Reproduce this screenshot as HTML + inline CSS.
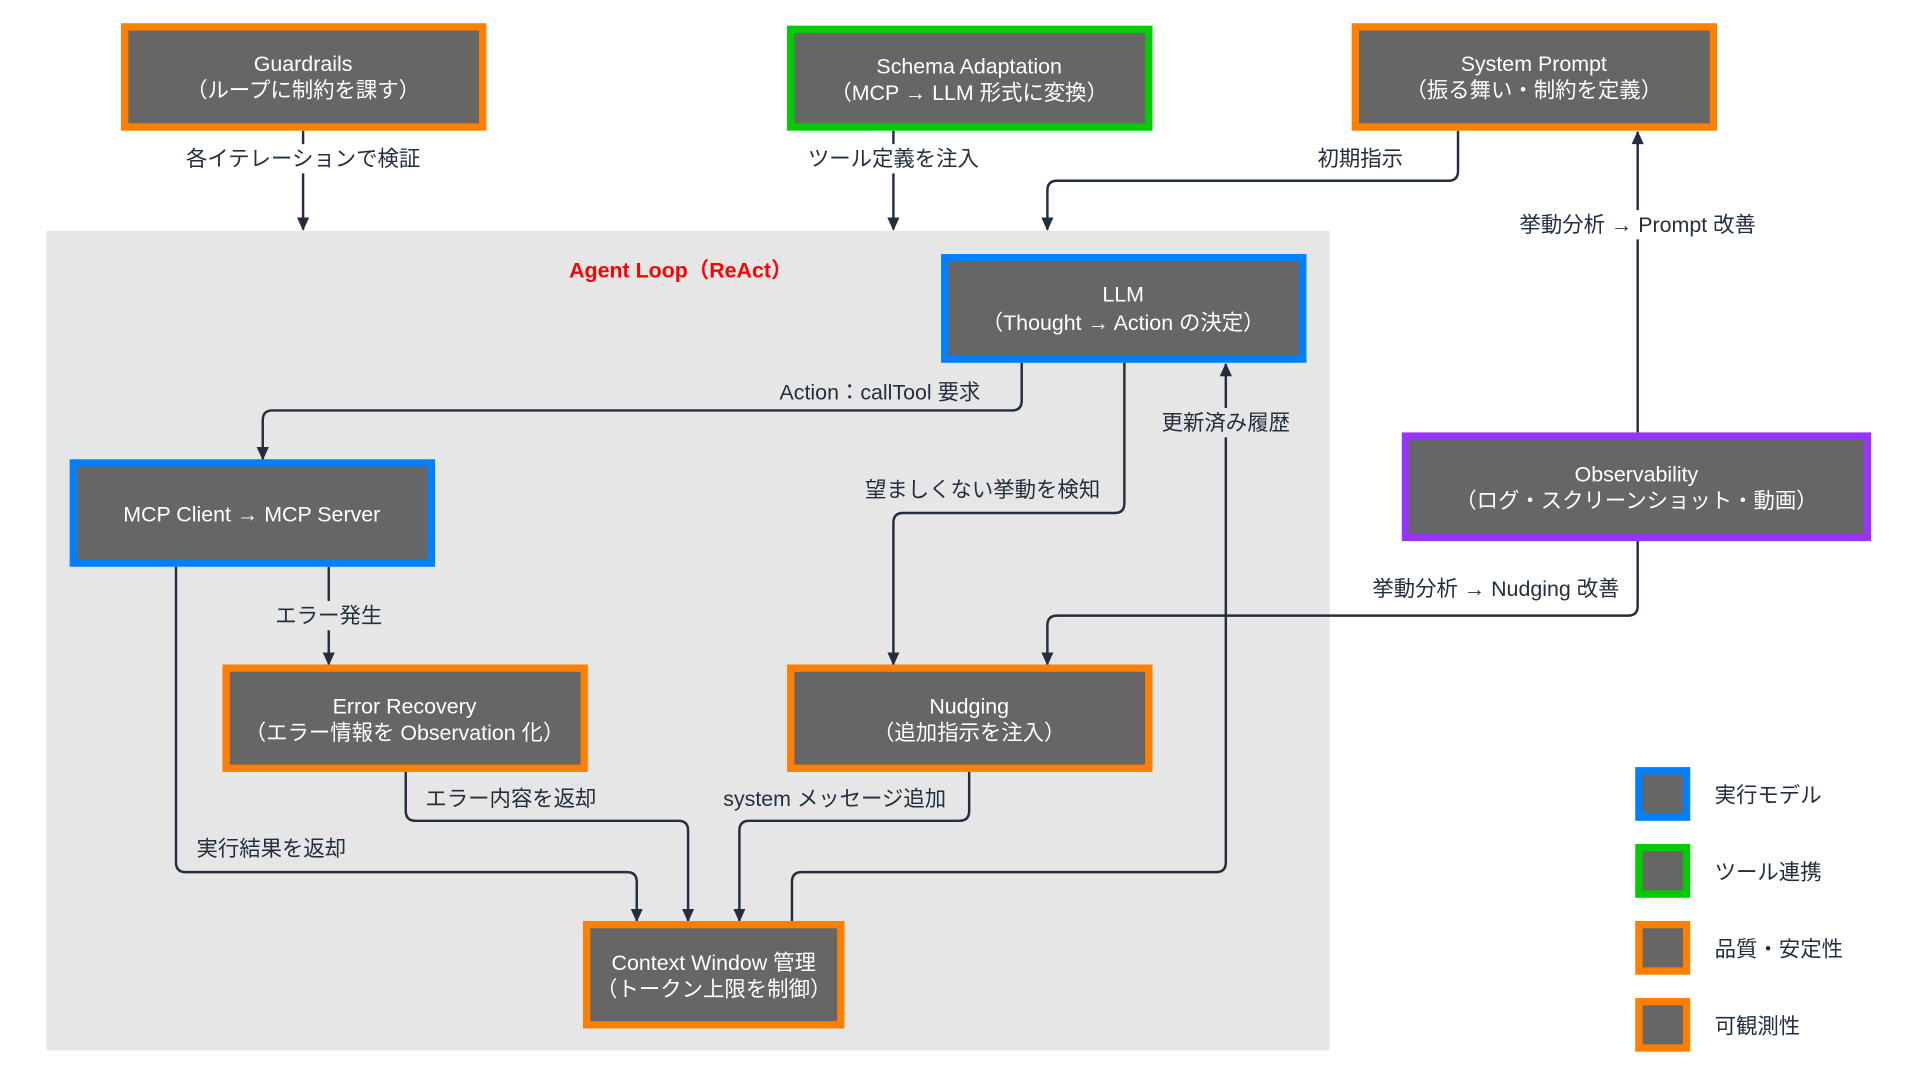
<!DOCTYPE html>
<html><head><meta charset="utf-8"><style>
html,body{margin:0;padding:0;background:#fff;}
svg{display:block;}
text{font-family:"Liberation Sans","Noto Sans CJK JP",sans-serif;}
.bt{fill:#fff;font-size:17.5px;text-anchor:middle;}
.lb{fill:#232f3e;font-size:17.5px;text-anchor:middle;}
.c{fill:none;stroke:#232f3e;stroke-width:2;}
</style></head><body>
<svg width="1920" height="1081" viewBox="0 0 1571 885" preserveAspectRatio="none" xmlns="http://www.w3.org/2000/svg">
<defs><marker id="a" markerWidth="10" markerHeight="10" refX="5" refY="9" orient="auto-start-reverse" markerUnits="userSpaceOnUse" viewBox="0 0 10 10"><path d="M0,0 L10,0 L5,10 z" fill="#232f3e" transform="rotate(0)"/></marker>
<marker id="d" markerWidth="12" markerHeight="12" refX="5" refY="10" orient="0" markerUnits="userSpaceOnUse" viewBox="0 0 10 12"><path d="M0,0 L10,0 L5,11 z" fill="#232f3e"/></marker>
<marker id="u" markerWidth="12" markerHeight="12" refX="5" refY="1" orient="0" markerUnits="userSpaceOnUse" viewBox="0 0 10 12"><path d="M0,11 L10,11 L5,0 z" fill="#232f3e"/></marker></defs>
<rect x="38" y="189" width="1050" height="671" fill="#e6e6e6"/>
<text x="557" y="227" fill="#ff0000" font-size="17.5" font-weight="bold" text-anchor="middle">Agent Loop（ReAct）</text>

<!-- connectors -->
<path class="c" d="M248,107 V188" marker-end="url(#d)"/>
<path class="c" d="M731,107 V188" marker-end="url(#d)"/>
<path class="c" d="M1193,107 V140 Q1193,148 1185,148 H865 Q857,148 857,156 V188" marker-end="url(#d)"/>
<path class="c" d="M1340,354 V108" marker-end="url(#u)"/>
<path class="c" d="M1340,443 V496 Q1340,504 1332,504 H865 Q857,504 857,512 V544" marker-end="url(#d)"/>
<path class="c" d="M836,297 V328 Q836,336 828,336 H223 Q215,336 215,344 V376" marker-end="url(#d)"/>
<path class="c" d="M920,297 V412 Q920,420 912,420 H739 Q731,420 731,428 V544" marker-end="url(#d)"/>
<path class="c" d="M648,754 V722 Q648,714 656,714 H995 Q1003,714 1003,706 V298" marker-end="url(#u)"/>
<path class="c" d="M269,464 V544" marker-end="url(#d)"/>
<path class="c" d="M144,464 V706 Q144,714 152,714 H513 Q521,714 521,722 V754" marker-end="url(#d)"/>
<path class="c" d="M332,632 V664 Q332,672 340,672 H555 Q563,672 563,680 V754" marker-end="url(#d)"/>
<path class="c" d="M793,632 V664 Q793,672 785,672 H613 Q605,672 605,680 V754" marker-end="url(#d)"/>

<!-- labels -->
<rect x="140" y="118" width="216" height="24" fill="#fff"/><text class="lb" x="248" y="136">各イテレーションで検証</text>
<rect x="653" y="118" width="156" height="24" fill="#fff"/><text class="lb" x="731" y="136">ツール定義を注入</text>
<text class="lb" x="1113" y="136">初期指示</text>
<rect x="1233" y="172" width="214" height="24" fill="#fff"/><text class="lb" x="1340" y="190">挙動分析 → Prompt 改善</text>
<text class="lb" x="1224" y="488">挙動分析 → Nudging 改善</text>
<text class="lb" x="720" y="327">Action：callTool 要求</text>
<rect x="698" y="389" width="212" height="24" fill="#e6e6e6"/><text class="lb" x="804" y="407">望ましくない挙動を検知</text>
<rect x="945" y="334" width="116" height="24" fill="#e6e6e6"/><text class="lb" x="1003" y="352">更新済み履歴</text>
<rect x="219" y="492" width="100" height="24" fill="#e6e6e6"/><text class="lb" x="269" y="510">エラー発生</text>
<text class="lb" x="222" y="701">実行結果を返却</text>
<text class="lb" x="418" y="660">エラー内容を返却</text>
<text class="lb" x="683" y="660">system メッセージ追加</text>

<!-- boxes -->
<g stroke-width="6" fill="#666">
<rect x="102" y="22" width="293" height="82" stroke="#ff8000"/>
<rect x="647" y="24" width="293" height="80" stroke="#00cc00"/>
<rect x="1109" y="22" width="293" height="82" stroke="#ff8000"/>
<rect x="773" y="211" width="293" height="83" stroke="#007fff"/>
<rect x="60" y="379" width="293" height="82" stroke="#007fff"/>
<rect x="1150" y="357" width="378" height="83" stroke="#9933ff"/>
<rect x="185" y="547" width="293" height="82" stroke="#ff8000"/>
<rect x="647" y="547" width="293" height="82" stroke="#ff8000"/>
<rect x="480" y="757" width="208" height="82" stroke="#ff8000"/>
<rect x="1341" y="631" width="39" height="38" stroke="#007fff"/>
<rect x="1341" y="694" width="39" height="38" stroke="#00cc00"/>
<rect x="1341" y="757" width="39" height="38" stroke="#ff8000"/>
<rect x="1341" y="820" width="39" height="38" stroke="#ff8000"/>
</g>
<text class="bt" x="248" y="58">Guardrails</text><text class="bt" x="248" y="80">（ループに制約を課す）</text>
<text class="bt" x="793" y="60">Schema Adaptation</text><text class="bt" x="793" y="82">（MCP → LLM 形式に変換）</text>
<text class="bt" x="1255" y="58">System Prompt</text><text class="bt" x="1255" y="80">（振る舞い・制約を定義）</text>
<text class="bt" x="919" y="247">LLM</text><text class="bt" x="919" y="270">（Thought → Action の決定）</text>
<text class="bt" x="206" y="427">MCP Client → MCP Server</text>
<text class="bt" x="1339" y="394">Observability</text><text class="bt" x="1339" y="416">（ログ・スクリーンショット・動画）</text>
<text class="bt" x="331" y="584">Error Recovery</text><text class="bt" x="331" y="606">（エラー情報を Observation 化）</text>
<text class="bt" x="793" y="584">Nudging</text><text class="bt" x="793" y="606">（追加指示を注入）</text>
<text class="bt" x="584" y="794">Context Window 管理</text><text class="bt" x="584" y="816">（トークン上限を制御）</text>
<g fill="#232f3e" font-size="17.5">
<text x="1403" y="657">実行モデル</text>
<text x="1403" y="720">ツール連携</text>
<text x="1403" y="783">品質・安定性</text>
<text x="1403" y="846">可観測性</text>
</g>
</svg>
</body></html>
